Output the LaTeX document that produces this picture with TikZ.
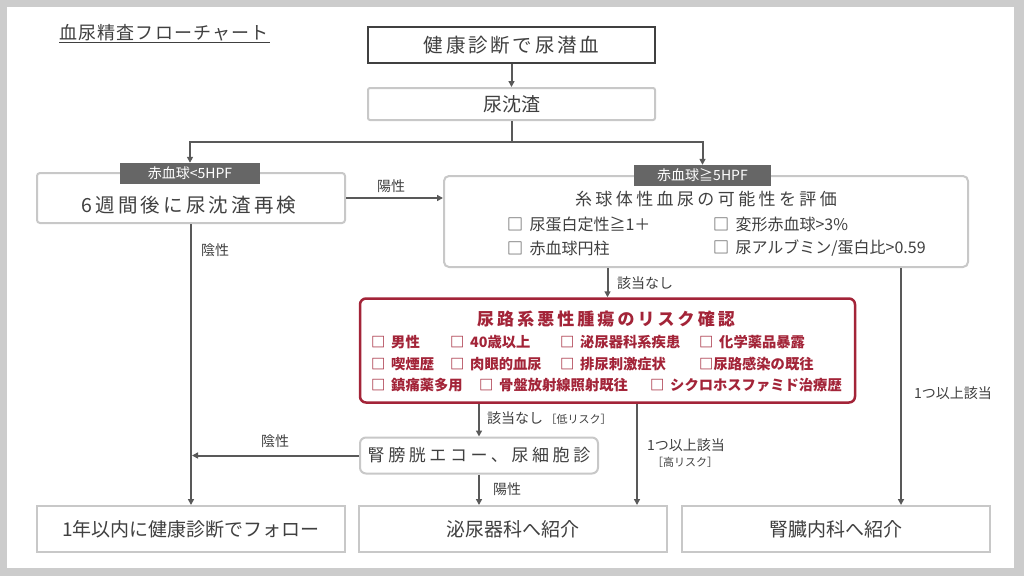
\documentclass[tikz,border=0pt]{standalone}
\usepackage{fontspec}
\setmainfont{Noto Sans CJK JP}
\usetikzlibrary{arrows.meta}
\definecolor{framegray}{RGB}{204,204,204}
\definecolor{linegray}{RGB}{89,89,89}
\definecolor{boxgray}{RGB}{200,200,200}
\definecolor{darkbox}{RGB}{64,64,64}
\definecolor{txtgray}{RGB}{64,64,64}
\definecolor{tabgray}{RGB}{102,102,102}
\definecolor{riskred}{RGB}{163,36,56}
\newcommand{\lsp}[1]{\addfontfeatures{LetterSpace=#1}}
\newcommand{\cb}{□\hspace{0.4em}}
\begin{document}
\begin{tikzpicture}[x=1pt,y=-1pt,
  box/.style={draw=boxgray,line width=2pt,rectangle,inner sep=0pt,text=txtgray},
  tabbox/.style={fill=tabgray,text=white,inner sep=0pt,minimum width=140pt,minimum height=21pt,font=\fontsize{14}{16}\selectfont},
  txt/.style={inner sep=0pt,text=txtgray},
  lbl/.style={inner sep=0pt,text=txtgray,font=\fontsize{14}{16}\selectfont},
  item/.style={inner sep=0pt,anchor=west,text=txtgray,font=\fontsize{16}{18}\selectfont},
  ritem/.style={inner sep=0pt,anchor=west,text=riskred,font=\fontsize{14.3}{16}\selectfont\bfseries},
  conn/.style={draw=linegray,line width=2pt},
  arr/.style={conn,-{Triangle[length=6pt,width=6pt]}}
]
\fill[framegray] (0,0) rectangle (1024,576);
\fill[white] (7,7) rectangle (1014,568);

% title
\node[txt,font=\fontsize{18}{20}\selectfont\lsp{6}] (title) at (164,33) {血尿精査フローチャート};
\draw[txtgray,line width=1pt] (59,42.5) -- (270,42.5);

% boxes
\node[box,draw=darkbox,line width=2.5pt,minimum width=287pt,minimum height=36pt,font=\fontsize{19.5}{22}\selectfont\lsp{14}] (b1) at (511.5,45) {健康診断で尿潜血};
\node[box,rounded corners=2pt,minimum width=287pt,minimum height=32pt,font=\fontsize{19}{22}\selectfont] (b2) at (511.5,104) {尿沈渣};
\node[box,rounded corners=3pt,minimum width=308pt,minimum height=50pt] (b3) at (191,198) {};
\node[txt,font=\fontsize{19.5}{22}\selectfont\lsp{16}] (b3t) at (189,205) {6週間後に尿沈渣再検};
\node[tabbox] (tab1) at (190,173.5) {赤血球<5HPF};

\node[box,rounded corners=5pt,minimum width=524pt,minimum height=91pt] (b4) at (706,221.5) {};
\node[tabbox,minimum width=137pt] (tab2) at (702.5,175.5) {赤血球≧5HPF};
\node[txt,font=\fontsize{17}{20}\selectfont\lsp{20}] (b4t) at (706,199) {糸球体性血尿の可能性を評価};
\node[item] (i1) at (507,224) {\cb 尿蛋白定性≧1＋};
\node[item] (i2) at (713,224) {\cb 変形赤血球>3\%};
\node[item] (i3) at (507,248) {\cb 赤血球円柱};
\node[item] (i4) at (713,248) {\cb 尿アルブミン/蛋白比>0.59};

\node[box,draw=riskred,line width=2.5pt,rounded corners=6pt,minimum width=495pt,minimum height=104pt] (rb) at (607.5,350.5) {};
\node[txt,text=riskred,font=\fontsize{17}{20}\selectfont\bfseries\lsp{18}] (rbt) at (606,319) {尿路系悪性腫瘍のリスク確認};
\node[ritem] (r1) at (371,342) {\cb 男性};
\node[ritem] (r2) at (450,342) {\cb 40歳以上};
\node[ritem] (r3) at (560,342) {\cb 泌尿器科系疾患};
\node[ritem] (r4) at (699,342) {\cb 化学薬品暴露};
\node[ritem] (r5) at (371,364) {\cb 喫煙歴};
\node[ritem] (r6) at (450,364) {\cb 肉眼的血尿};
\node[ritem] (r7) at (560,364) {\cb 排尿刺激症状};
\node[ritem] (r8) at (699,364) {□尿路感染の既往};
\node[ritem] (r9) at (371,385) {\cb 鎮痛薬多用};
\node[ritem] (r10) at (479,385) {\cb 骨盤放射線照射既往};
\node[ritem] (r11) at (650,385) {\cb シクロホスファミド治療歴};

\node[box,rounded corners=6pt,minimum width=238pt,minimum height=36pt,font=\fontsize{17}{20}\selectfont\lsp{21}] (b5) at (479,455.5) {腎膀胱エコー、尿細胞診};

\node[box,minimum width=308pt,minimum height=46pt,font=\fontsize{19}{22}\selectfont] (b6) at (191,529) {1年以内に健康診断でフォロー};
\node[box,minimum width=308pt,minimum height=46pt,font=\fontsize{19}{22}\selectfont] (b7) at (512.5,529) {泌尿器科へ紹介};
\node[box,minimum width=308pt,minimum height=46pt,font=\fontsize{19}{22}\selectfont] (b8) at (836,529) {腎臓内科へ紹介};

% connectors
\coordinate (j) at (511.5,142);
\coordinate (rline) at (901,0);
\coordinate (mline) at (637,0);
\draw[arr] (b1.south) -- (b2.north);
\draw[conn] (b2.south) -- (j);
\draw[arr] (j) -| (tab1.north);
\draw[arr] (j) -| (tab2.north);
\draw[arr] (b3.east) -- (b3.east -| b4.west);
\draw[arr] (b3.south) -- (b6.north);
\draw[arr] (rb.north |- b4.south) -- (rb.north);
\draw[arr] (b4.south -| rline) -- (b8.north -| rline);
\draw[arr] (b5.north |- rb.south) -- (b5.north);
\draw[arr] (b5.west) -- ([xshift=1pt]b5.west -| b6.north);
\draw[arr] (b5.south) -- (b5.south |- b7.north);
\draw[arr] (rb.south -| mline) -- (b7.north -| mline);

% labels
\node[lbl] (l1) at (391,186) {陽性};
\node[lbl] (l2) at (215,250) {陰性};
\node[lbl,anchor=west] (l3) at (617,283) {該当なし};
\node[lbl] (l4) at (953,393) {1つ以上該当};
\node[lbl,anchor=west] (l5) at (487,418) {該当なし\,{\fontsize{11}{12}\selectfont［低リスク］}};
\node[lbl] (l6) at (275,441) {陰性};
\node[lbl] (l7) at (507,489) {陽性};
\node[lbl] (l8) at (686,445) {1つ以上該当};
\node[lbl,font=\fontsize{11}{12}\selectfont] (l9) at (685,462) {［高リスク］};
\end{tikzpicture}
\end{document}
